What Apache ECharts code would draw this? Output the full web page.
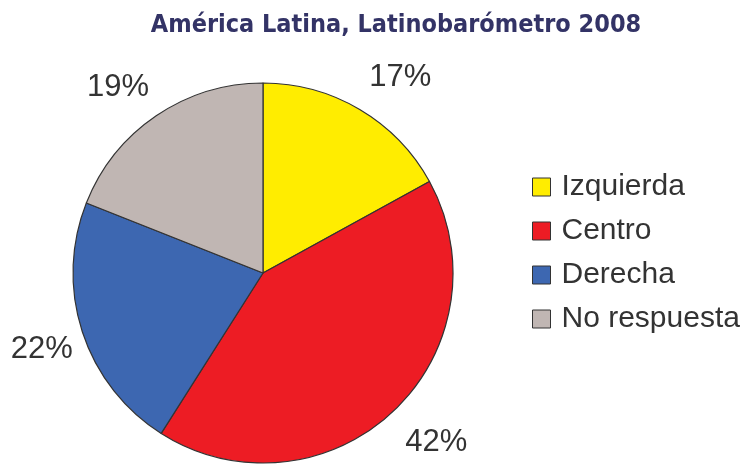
<!DOCTYPE html>
<html>
<head>
<meta charset="utf-8">
<script src="https://cdn.jsdelivr.net/npm/echarts@6/dist/echarts.min.js"></script>
<style>
  html, body { margin: 0; padding: 0; background: #fff; }
  #chart { width: 755px; height: 464px; }
</style>
</head>
<body>
<div id="chart"></div>
<script>
const categories = ['Izquierda', 'Centro', 'Derecha', 'No respuesta'];
const values = [17, 42, 22, 19];
const colors = ['#FFED00', '#ED1C24', '#3D67B1', '#C0B6B3'];
// small nudges so the % labels sit where the original put them
const labelOffsets = [[15, 11], [9, -5], [7, 2], [-10, 13]];

const sliceData = categories.map((name, i) => ({
  name: name,
  value: values[i],
  itemStyle: { color: colors[i] }
}));

// invisible ring, only used to place the % labels around the pie
const labelData = categories.map((name, i) => ({
  name: name,
  value: values[i],
  itemStyle: { color: 'transparent', borderWidth: 0 },
  label: { offset: labelOffsets[i] }
}));

const chart = echarts.init(document.getElementById('chart'));

chart.setOption({
  backgroundColor: '#fff',
  animation: false,
  title: {
    text: 'América Latina, Latinobarómetro 2008',
    left: 391,
    textAlign: 'center',
    top: 8,
    textStyle: {
      fontFamily: '"DejaVu Sans Condensed", "Liberation Sans Narrow", "Liberation Sans", sans-serif',
      fontWeight: 'bold',
      fontSize: 25,
      color: '#333366'
    }
  },
  legend: {
    data: categories,
    orient: 'vertical',
    left: 527,
    top: 167,
    icon: 'rect',
    itemWidth: 18,
    itemHeight: 18,
    itemGap: 14,
    textStyle: {
      fontFamily: 'Liberation Sans',
      fontSize: 30,
      lineHeight: 30,
      color: '#333',
      padding: [0, 0, 0, 6]
    },
    itemStyle: { borderColor: '#333', borderWidth: 1 }
  },
  series: [
    {
      type: 'pie',
      center: [263, 273],
      radius: 190,
      startAngle: 90,
      clockwise: true,
      silent: true,
      label: { show: false },
      labelLine: { show: false },
      itemStyle: { borderColor: '#333', borderWidth: 1.2 },
      data: sliceData
    },
    {
      type: 'pie',
      center: [263, 273],
      radius: [222, 252],
      startAngle: 90,
      clockwise: true,
      silent: true,
      legendHoverLink: false,
      label: {
        show: true,
        position: 'inside',
        formatter: '{c}%',
        fontFamily: 'Liberation Sans',
        fontSize: 31,
        color: '#333'
      },
      labelLine: { show: false },
      data: labelData
    }
  ]
});
</script>
</body>
</html>
